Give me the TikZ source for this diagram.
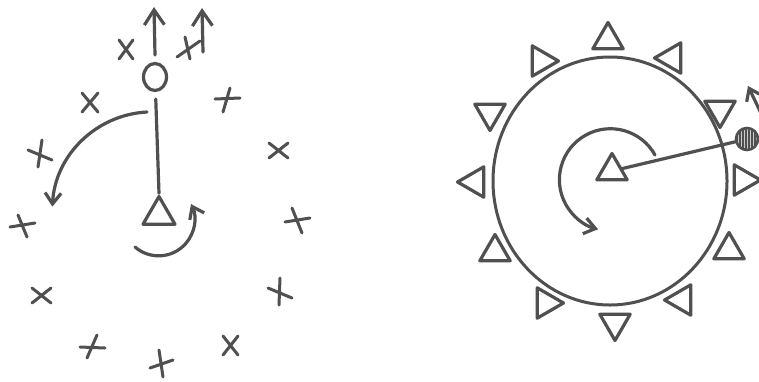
\documentclass[tikz,border=0pt]{standalone}
\usetikzlibrary{arrows.meta,shapes.geometric,patterns}
\definecolor{ink}{RGB}{80,80,80}
\begin{document}
\begin{tikzpicture}[x=1pt,y=-1pt,line width=3.2pt,draw=ink,line cap=round,line join=round,
  tri/.style={draw=ink,regular polygon,regular polygon sides=3,minimum size=35pt,inner sep=0pt,line width=3.2pt},
  up/.style={shape border rotate=0},
  dn/.style={shape border rotate=180},
  rt/.style={shape border rotate=-90},
  lf/.style={shape border rotate=90},
  xs/.style={line width=3pt},
  bigtip/.style={-{Straight Barb[length=15pt,width=20pt]}},
  midtip/.style={-{Straight Barb[length=11pt,width=16pt]}}]
\useasboundingbox (0,0) rectangle (759,381);
\fill[white] (0,0) rectangle (759,381);

% ---------- left diagram ----------
\node[draw=ink,ellipse,minimum width=23pt,minimum height=27pt,inner sep=0pt] (o) at (155,77) {};
\node[tri,up,minimum size=37pt] (lt) at (159,215) {};
\draw[shorten <=7pt] (o) -- (lt.corner 1);

\coordinate (a1s) at (155,55); \coordinate (a1e) at (154,7);
\coordinate (a2s) at (203,52); \coordinate (a2e) at (202,8);
\draw[bigtip] (a1s) -- (a1e);
\draw[bigtip] (a2s) -- (a2e);

\coordinate (c1s) at (147,112);
\draw[midtip] (c1s) arc[start angle=93,end angle=177,radius=100pt];
\coordinate (c2s) at (135,247);
\draw[midtip] (c2s) arc[start angle=229,end angle=386,radius=36pt];

% x-style marks
\draw[xs] (119,40) -- (133,59) (133,40) -- (119,59);
\draw[xs] (82,93) -- (98,112) (98,93) -- (82,112);
\draw[xs] (269,143) -- (288,158) (288,143) -- (269,158);
\draw[xs] (32,288) -- (51,303) (51,288) -- (32,303);
\draw[xs] (223,336) -- (238,355) (238,336) -- (223,355);
% plus-style marks
\draw[xs] (177,57) -- (200,41) (185,37) -- (190,59);
\draw[xs] (215,99) -- (240,98) (230,88) -- (223,112);
\draw[xs] (28,150) -- (52,160) (42,140) -- (38,167);
\draw[xs] (10,227) -- (35,223) (18,215) -- (27,237);
\draw[xs] (285,222) -- (310,218) (292,208) -- (302,233);
\draw[xs] (268,288) -- (292,298) (280,278) -- (279,305);
\draw[xs] (80,347) -- (105,348) (97,335) -- (87,358);
\draw[xs] (150,368) -- (173,360) (159,350) -- (163,377);

% ---------- right diagram ----------
\node[draw=ink,ellipse,minimum width=234pt,minimum height=248pt,inner sep=0pt,line width=3pt] (ring) at (610,181) {};
\node[tri,up] (ct) at (612,171) {};
\node[circle,draw=ink,line width=2.6pt,minimum size=22pt,inner sep=0pt,
      preaction={fill=ink},pattern=vertical lines,pattern color=white!70!ink] (ball) at (747,139) {};
\draw (ct) -- (ball);
\coordinate (bt) at (768,128); \coordinate (btip) at (748,86);
\draw[midtip] (bt) -- (btip);

\coordinate (sps) at (655,155);
\draw[midtip] (sps) arc[start angle=29,end angle=256,radius=51pt];

\node[tri,up] (t1) at (608,40) {};
\node[tri,rt] (t2) at (541,61) {};
\node[tri,lf] (t3) at (672,58) {};
\node[tri,dn] (t4) at (490,113) {};
\node[tri,dn] (t5) at (720,110) {};
\node[tri,lf] (t6) at (475,182) {};
\node[tri,rt] (t7) at (743,180) {};
\node[tri,up] (t8) at (495,252) {};
\node[tri,up] (t9) at (729,250) {};
\node[tri,rt] (t10) at (546,303) {};
\node[tri,lf] (t11) at (682,300) {};
\node[tri,dn] (t12) at (615,323) {};
\end{tikzpicture}
\end{document}
